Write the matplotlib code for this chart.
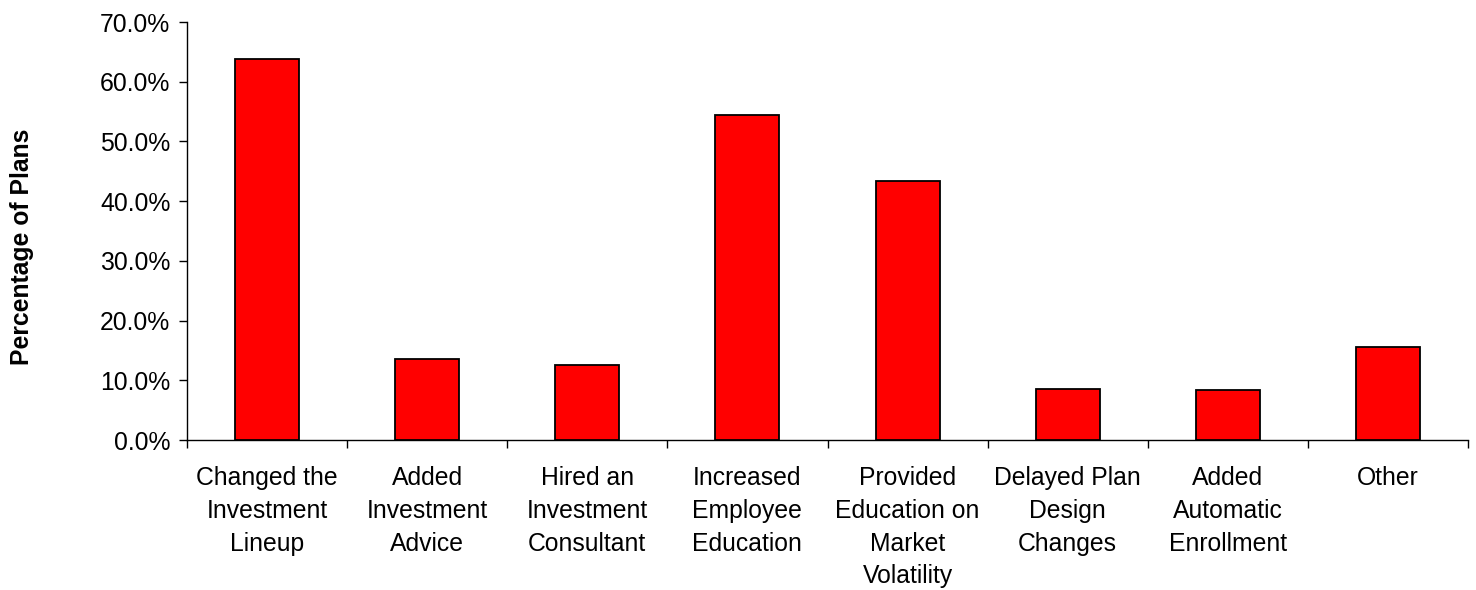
import matplotlib
matplotlib.use("Agg")
import matplotlib.pyplot as plt
from matplotlib.ticker import FuncFormatter, FixedLocator

categories = [
    "Changed the\nInvestment\nLineup",
    "Added\nInvestment\nAdvice",
    "Hired an\nInvestment\nConsultant",
    "Increased\nEmployee\nEducation",
    "Provided\nEducation on\nMarket\nVolatility",
    "Delayed Plan\nDesign\nChanges",
    "Added\nAutomatic\nEnrollment",
    "Other",
]
percent_of_plans = [63.8, 13.6, 12.6, 54.5, 43.3, 8.6, 8.3, 15.5]
y_ticks = [0, 10, 20, 30, 40, 50, 60, 70]
y_label = "Percentage of Plans"

plt.rcParams["font.family"] = ["Liberation Sans", "DejaVu Sans"]
FS = 17.8

W, H, DPI = 1476, 590, 100
fig = plt.figure(figsize=(W / DPI, H / DPI), dpi=DPI)
left, right, top, bottom = 187, 1468, 22, 440
ax = fig.add_axes([left / W, 1 - bottom / H, (right - left) / W, (bottom - top) / H])

x = list(range(len(categories)))
ax.bar(x, percent_of_plans, width=0.4, color="#ff0000", edgecolor="black",
       linewidth=1.3, zorder=3)

ax.set_xlim(-0.5, len(categories) - 0.5)
ax.set_ylim(0, 70)
ax.set_yticks(y_ticks)
ax.yaxis.set_major_formatter(FuncFormatter(lambda v, _: f"{v:.1f}%"))

ax.set_xticks(x)
ax.set_xticklabels(categories, fontsize=FS, linespacing=1.47, va="top")
ax.xaxis.set_minor_locator(FixedLocator([i - 0.5 for i in range(len(categories) + 1)]))
ax.tick_params(axis="x", which="major", length=0, pad=18.5)
ax.tick_params(axis="x", which="minor", length=6, width=1, color="black", direction="out")
ax.tick_params(axis="y", length=6, width=1, color="black", direction="out",
               labelsize=FS, pad=6)

for s in ("top", "right"):
    ax.spines[s].set_visible(False)
for s in ("left", "bottom"):
    ax.spines[s].set_color("black")
    ax.spines[s].set_linewidth(1)

fig.text(22 / W, 1 - 247 / H, y_label, rotation=90, ha="center", va="center",
         fontsize=FS, fontweight="bold")

fig.savefig("out.png", dpi=DPI)
